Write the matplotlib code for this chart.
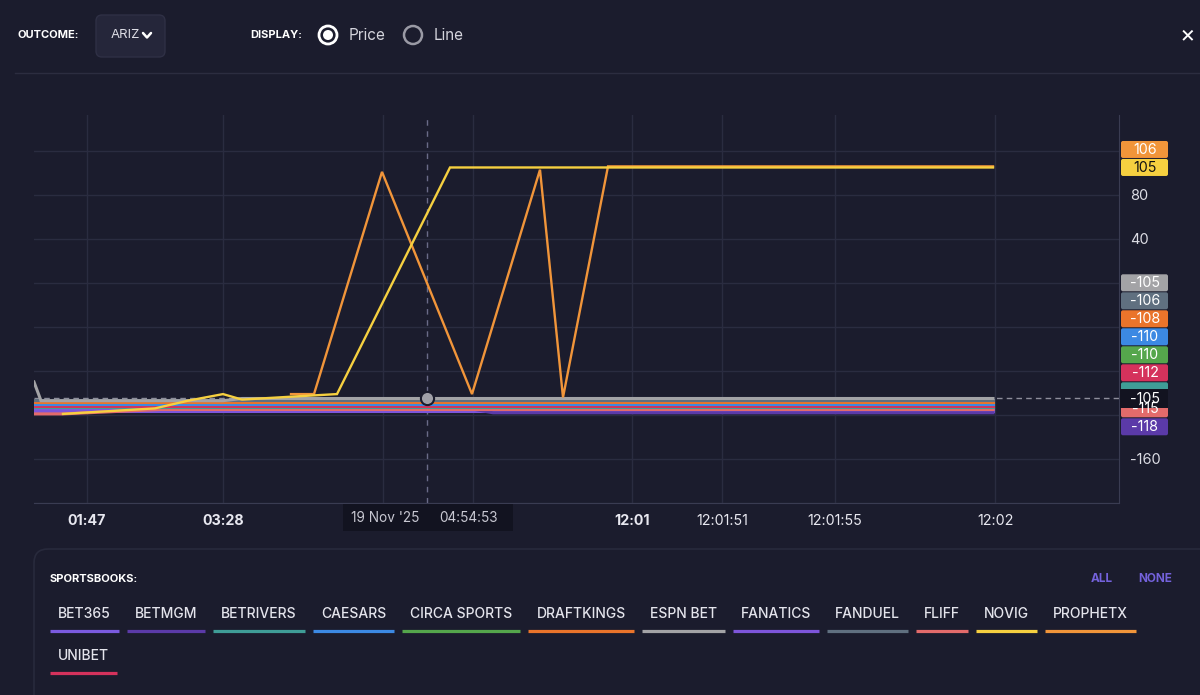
import numpy as np
import matplotlib.pyplot as plt
from matplotlib.patches import Rectangle, FancyBboxPatch, Circle

plt.rcParams['font.family'] = ['Inter', 'DejaVu Sans']
plt.rcParams['axes.unicode_minus'] = False

bg = '#1b1c2d'
W, H = 1200, 695

# ---- data (x is an ordinal time position along the chart) ----
tick_pos = [8.7, 22.3, 38.3, 47.3, 63.2, 72.2, 83.5, 99.5]
tick_lab = ['01:47', '03:28', '', '', '12:01', '12:01:51', '12:01:55', '12:02']
tick_bold = [True, True, False, False, True, False, False, False]
ytick_pos = [-200, -160, -120, -80, -40, 0, 40, 80, 120]
ytick_lab = ['', '-160', '', '', '', '', '40', '80', '']
cross_x = 42.7
cross_date = "19 Nov '25"
cross_time = '04:54:53'
cross_price = -105

books = ['BET365', 'BETMGM', 'BETRIVERS', 'CAESARS', 'CIRCA SPORTS', 'DRAFTKINGS',
         'ESPN BET', 'FANATICS', 'FANDUEL', 'FLIFF', 'NOVIG', 'PROPHETX', 'UNIBET']
colors = ['#7b5be0', '#5b3aa8', '#3f9d97', '#3c89e3', '#55a64c', '#ea742b',
          '#a3a3a6', '#7d55da', '#607080', '#e36b6b', '#f6d040', '#f1953a', '#d5325c']

bet365_x = [3.4, 99.3];  bet365_y = [-114, -114]
betmgm_x = [3.4, 42.7, 49.3, 99.3];  betmgm_y = [-109, -107, -118, -118]
betrivers_x = [3.4, 99.3];  betrivers_y = [-113, -113]
caesars_x = [3.4, 99.3];  caesars_y = [-110, -110]
circa_x = [3.4, 99.3];  circa_y = [-110, -110]
draftkings_x = [3.4, 99.3];  draftkings_y = [-108, -108]
espn_x = [3.4, 4.1, 22.3, 24.2, 99.3];  espn_y = [-90, -107, -107, -105, -105]
fanatics_x = [3.4, 99.3];  fanatics_y = [-116, -116]
fanduel_x = [3.4, 99.3];  fanduel_y = [-106, -106]
fliff_x = [3.4, 6.3, 16.0, 99.3];  fliff_y = [-119, -119, -115, -115]
novig_x = [6.3, 15.5, 18.8, 22.3, 24.2, 29.8, 33.7, 45.0, 99.3]
novig_y = [-119, -114, -107, -101, -106, -103, -101, 105, 105]
prophetx_x = [29.1, 31.4, 38.2, 47.2, 54.0, 56.3, 60.8, 99.3]
prophetx_y = [-101, -101, 101, -101, 103, -104, 106, 106]
unibet_x = [3.4, 99.3];  unibet_y = [-112, -112]

series = {
    'BET365': (bet365_x, bet365_y), 'BETMGM': (betmgm_x, betmgm_y),
    'BETRIVERS': (betrivers_x, betrivers_y), 'CAESARS': (caesars_x, caesars_y),
    'CIRCA SPORTS': (circa_x, circa_y), 'DRAFTKINGS': (draftkings_x, draftkings_y),
    'ESPN BET': (espn_x, espn_y), 'FANATICS': (fanatics_x, fanatics_y),
    'FANDUEL': (fanduel_x, fanduel_y), 'FLIFF': (fliff_x, fliff_y),
    'NOVIG': (novig_x, novig_y), 'PROPHETX': (prophetx_x, prophetx_y),
    'UNIBET': (unibet_x, unibet_y),
}
col = dict(zip(books, colors))
label_top = ['PROPHETX', 'NOVIG']
label_low = ['ESPN BET', 'FANDUEL', 'DRAFTKINGS', 'CAESARS', 'CIRCA SPORTS',
             'UNIBET', 'BETRIVERS', 'FLIFF', 'BETMGM']

# ---- figure ----
fig = plt.figure(figsize=(12, 6.95), dpi=100, facecolor=bg)
ax = fig.add_axes([34 / W, (H - 503) / H, (1119 - 34) / W, (503 - 115) / H], facecolor=bg)
ax.set_xlim(3.4, 111.9)
ax.set_ylim(-200, 152.7)
ax.set_yticks(ytick_pos)
ax.set_yticklabels(ytick_lab)
ax.yaxis.tick_right()
ax.tick_params(axis='y', length=0, pad=8, labelcolor='#dcdce4', labelsize=10.5)
ax.set_xticks(tick_pos)
ax.set_xticklabels(tick_lab)
ax.tick_params(axis='x', length=0, pad=8, labelcolor='#e8e8f0', labelsize=10.3)
for lab, b in zip(ax.get_xticklabels(), tick_bold):
    if b:
        lab.set_fontweight('bold')
ax.grid(color='#2a2c40', lw=1)
ax.set_axisbelow(True)
for s in ['left', 'top']:
    ax.spines[s].set_visible(False)
for s in ['right', 'bottom']:
    ax.spines[s].set_color('#3a3c52')

ax.axhline(cross_price, color='#8e8e9c', lw=1, dashes=(4, 3), zorder=1)
ax.axvline(cross_x, color='#6a6b88', lw=1, dashes=(4, 4), zorder=1)

order = ['FANATICS', 'BET365', 'BETMGM', 'FLIFF', 'BETRIVERS', 'UNIBET', 'CIRCA SPORTS',
         'CAESARS', 'DRAFTKINGS', 'FANDUEL', 'ESPN BET', 'PROPHETX', 'NOVIG']
for i, b in enumerate(order):
    xs, ys = series[b]
    lw = 1.7 if b in ('NOVIG', 'PROPHETX') else 2.2
    ax.plot(xs, ys, color=col[b], lw=lw, zorder=3 + i, solid_joinstyle='miter')
ax.scatter([cross_x], [cross_price], s=90, color='#a0a0a8', edgecolor='#1b1c2d',
           lw=1.5, zorder=30)

# ---- overlay in pixel coords ----
ui = fig.add_axes([0, 0, 1, 1], zorder=5)
ui.set_xlim(0, W)
ui.set_ylim(H, 0)
ui.axis('off')
ui.patch.set_alpha(0)


def px(v):
    return H - ax.transData.transform((0, v))[1]


# header
ui.text(17, 35, 'OUTCOME:', color='white', fontsize=8, fontweight='bold', va='center')
ui.add_patch(FancyBboxPatch((96, 15), 69, 42, boxstyle='round,pad=0,rounding_size=6',
                            fc='#25263a', ec='#2f3045', lw=1))
ui.text(111, 35, 'ARIZ', color='#dcdce4', fontsize=9.5, va='center')
ui.plot([143, 147, 151], [33, 37.5, 33], color='white', lw=1.8, solid_capstyle='round')
ui.text(250, 35, 'DISPLAY:', color='white', fontsize=8, fontweight='bold', va='center')
ui.add_patch(Circle((328, 35), 9, fc='none', ec='white', lw=2))
ui.add_patch(Circle((328, 35), 5, fc='white', ec='none'))
ui.text(349, 35.5, 'Price', color='#d4d4dc', fontsize=11, va='center')
ui.add_patch(Circle((413, 35), 9, fc='none', ec='#9a9aa5', lw=1.8))
ui.text(434, 35.5, 'Line', color='#d4d4dc', fontsize=11, va='center')
ui.text(1187, 35, '×', color='white', fontsize=17, va='center', ha='center')
ui.plot([15, W], [73, 73], color='#2c2d40', lw=1)

yc = px(cross_price)
clip_below = Rectangle((1100, yc + 9.5), 100, 100, transform=ui.transData)


# right-hand price labels, stacked upward from the lowest one
def stack(names, shift):
    names = sorted(names, key=lambda n: series[n][1][-1], reverse=True)
    ys = []
    prev = None
    for n in reversed(names):
        y = px(series[n][1][-1]) + shift
        if prev is not None:
            y = min(y, prev - 18)
        ys.append((n, y))
        prev = y
    return ys


for n, y in stack(label_top, 0) + stack(label_low, 14):
    ui.add_patch(FancyBboxPatch((1121, y - 8.5), 47, 17, boxstyle='round,pad=0,rounding_size=2',
                                fc=col[n], ec='none'))
    if abs(y - yc) < 9:
        continue  # tag fully hidden by the crosshair price tag
    tc = '#111111' if n == 'NOVIG' else 'white'
    t = ui.text(1145, y + 0.5, str(series[n][1][-1]), color=tc, fontsize=10.3,
                ha='center', va='center')
    if yc < y < yc + 18:
        t.set_clip_path(clip_below)

ui.add_patch(Rectangle((1120, yc - 9.5), 48, 19, fc='#121320', ec='none'))
ui.text(1145, yc + 0.5, str(cross_price), color='white', fontsize=10.3, ha='center', va='center')

# crosshair date box
ui.add_patch(Rectangle((343, 504), 170, 27, fc='#121320', ec='none'))
ui.text(351, 518, cross_date, color='#c8c8d2', fontsize=9.8, va='center')
ui.text(439, 518, cross_time, color='#c8c8d2', fontsize=9.8, va='center')

# sportsbooks panel
ui.add_patch(FancyBboxPatch((34, 549), 1250, 300, boxstyle='round,pad=0,rounding_size=14',
                            fc='none', ec='#282a3c', lw=1.2))
ui.text(50, 579, 'SPORTSBOOKS:', color='white', fontsize=8, fontweight='bold', va='center')
ui.text(1091, 579, 'ALL', color='#7462dc', fontsize=8.5, fontweight='bold', va='center')
ui.text(1138, 579, 'NONE', color='#7462dc', fontsize=8.5, fontweight='bold', va='center')

renderer = fig.canvas.get_renderer()
x0, row = 58, 0
for i, b in enumerate(books):
    if i == 12:
        x0, row = 58, 1
    ty = 614 + row * 42
    t = ui.text(x0, ty, b, color='#e4e4ec', fontsize=10, fontweight='medium', va='center')
    w = t.get_window_extent(renderer).width
    ui.plot([x0 - 8, x0 + w + 8], [ty + 17, ty + 17], color=col[b], lw=2.3,
            solid_capstyle='butt')
    x0 = x0 + w + 24

fig.savefig('out.png', dpi=100, facecolor=bg)
